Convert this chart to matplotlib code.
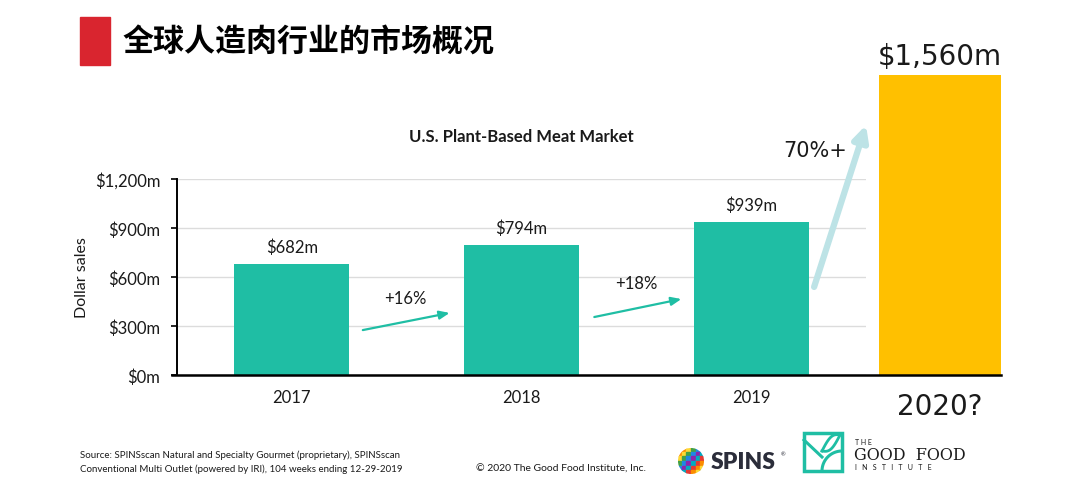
import matplotlib
matplotlib.use("Agg")
import matplotlib.pyplot as plt
from matplotlib.patches import Rectangle, Circle
from matplotlib.lines import Line2D
import numpy as np

# ---- data ----
years = ["2017", "2018", "2019"]
sales = [682, 794, 939]
value_labels = ["$682m", "$794m", "$939m"]
growth_labels = ["+16%", "+18%"]
forecast_year = "2020?"
forecast_value = 1560
forecast_label = "$1,560m"
forecast_growth = "70%+"
yticks = [0, 300, 600, 900, 1200]
ytick_labels = ["$0m", "$300m", "$600m", "$900m", "$1,200m"]

TEAL = "#1fbea4"
YELLOW = "#ffc000"
LIGHTBLUE = "#bde3e6"
GRID = "#dcdcdc"
TXT = "#1a1a1a"
FONT = ["Lato", "DejaVu Sans"]

fig = plt.figure(figsize=(10.8, 5.02), dpi=100)
fig.patch.set_facecolor("white")

# ---- main axes ----
ax = fig.add_axes([177/1080, 1-376/502, (866-177)/1080, (376-180)/502])
x = np.arange(len(years))
ax.bar(x, sales, width=0.5, color=TEAL, zorder=2)
ax.set_xlim(-0.5, 2.5)
ax.set_ylim(0, 1200)
ax.set_yticks(yticks)
ax.set_yticklabels(ytick_labels, fontsize=12, family=FONT, color=TXT)
ax.set_xticks(x)
ax.set_xticklabels(years, fontsize=12, family=FONT, color=TXT)
ax.tick_params(axis="x", length=0, pad=10)
ax.tick_params(axis="y", length=4, width=1.2, pad=8)
ax.grid(axis="y", color=GRID, linewidth=1, zorder=0)
ax.set_axisbelow(True)
for s in ["top", "right", "bottom"]:
    ax.spines[s].set_visible(False)
ax.spines["left"].set_linewidth(1.4)
ax.set_ylabel("Dollar sales", fontsize=11.5, family=FONT, color=TXT, labelpad=4)
ax.set_title("U.S. Plant-Based Meat Market", fontsize=12, family=FONT,
             fontweight="bold", color=TXT, pad=27)

for xi, v, lab in zip(x, sales, value_labels):
    ax.text(xi, v + 105, lab, ha="center", va="center", fontsize=12,
            family=FONT, color=TXT)

# growth arrows
arrows = [((0.309, 275), (0.687, 380)), ((1.317, 355), (1.696, 465))]
lab_pos = [(0.496, 471), (1.5, 563)]
for (s, e), lab, lp in zip(arrows, growth_labels, lab_pos):
    ax.annotate("", xy=e, xytext=s,
                arrowprops=dict(arrowstyle="-|>,head_length=0.6,head_width=0.25",
                                color=TEAL, lw=1.6, shrinkA=0, shrinkB=0))
    ax.text(lp[0], lp[1], lab, ha="center", va="center", fontsize=12,
            family=FONT, color=TXT)

# big forecast arrow
ax.annotate("", xy=(2.5, 1530), xytext=(2.274, 539),
            arrowprops=dict(arrowstyle="-|>,head_length=0.9,head_width=0.45",
                            color=LIGHTBLUE, lw=4.5, shrinkA=0, shrinkB=0),
            annotation_clip=False)
ax.text(2.28, 1377, forecast_growth, ha="center", va="center", fontsize=15,
        family=["DejaVu Sans"], color=TXT, clip_on=False)

# ---- forecast axes ----
ax2 = fig.add_axes([879/1080, 1-376/502, 122/1080, 300/502])
ax2.bar([0], [forecast_value], width=1.0, color=YELLOW)
ax2.set_xlim(-0.5, 0.5)
ax2.set_ylim(0, forecast_value)
ax2.axis("off")
ax2.text(0, forecast_value * 1.065, forecast_label, ha="center", va="center",
         fontsize=20, family=["DejaVu Sans"], color=TXT, clip_on=False)
ax2.text(0, -forecast_value * 0.103, forecast_year, ha="center", va="center",
         fontsize=20, family=["DejaVu Sans"], color=TXT, clip_on=False)

# baseline
fig.add_artist(Line2D([172/1080, 1001/1080], [1-376/502, 1-376/502],
                      color="black", lw=1.8, transform=fig.transFigure))

# ---- page title ----
fig.add_artist(Rectangle((80/1080, 1-66/502), 30/1080, 48/502,
                         color="#d9252f", transform=fig.transFigure))
fig.text(122/1080, 1-43/502, "全球人造肉行业的市场概况", fontsize=22.3,
         family=["Noto Sans CJK SC", "DejaVu Sans"], fontweight="heavy",
         va="center", ha="left", color="black")

# ---- source text ----
fig.text(80/1080, 1-455/502,
         "Source: SPINSscan Natural and Specialty Gourmet (proprietary), SPINSscan",
         fontsize=7, family=FONT, color=TXT, va="center")
fig.text(80/1080, 1-469/502,
         "Conventional Multi Outlet (powered by IRI), 104 weeks ending 12-29-2019",
         fontsize=7, family=FONT, color=TXT, va="center")
fig.text(476/1080, 1-469/502, "© 2020 The Good Food Institute, Inc.",
         fontsize=7.5, family=FONT, color=TXT, va="center")

# ---- logos (approximate) ----
lg = fig.add_axes([0, 0, 1, 1], facecolor="none")
lg.set_xlim(0, 1080)
lg.set_ylim(502, 0)
lg.axis("off")
# SPINS globe
gcols = ["#e53935", "#fb8c00", "#fdd835", "#43a047", "#1e88e5", "#8e24aa", "#00acc1"]
cx, cy, r = 691, 462, 13
clip = Circle((cx, cy), r, transform=lg.transData)
for i in range(-3, 3):
    for j in range(-3, 3):
        sq = Rectangle((cx + i * 4.6, cy + j * 4.6), 4.0, 4.0,
                       color=gcols[(i + j + 6) % len(gcols)], zorder=3)
        sq.set_clip_path(clip)
        lg.add_patch(sq)
lg.text(711, 463, "SPINS", fontsize=16.5, fontweight="heavy", family=FONT,
        color="#2b2d3a", va="center", ha="left")
lg.text(781, 455, "®", fontsize=4, family=FONT, color="#2b2d3a", va="center")
# GFI logo
G = "#1fbea4"
lg.add_patch(Rectangle((804, 434), 38, 38, fill=False, edgecolor=G, lw=2.5))
t = np.linspace(np.pi, 1.5 * np.pi, 30)
lg.plot(842 + 20 * np.cos(t), 472 + 20 * np.sin(t), color=G, lw=2.2)
lg.plot([804, 822], [441, 458], color=G, lw=2.2)
# leaf
tl = np.linspace(0, 1, 30)
lg.plot(822 + 18 * tl, 452 - 16 * tl + 6 * np.sin(np.pi * tl), color=G, lw=2.0)
lg.plot(822 + 18 * tl, 452 - 16 * tl - 6 * np.sin(np.pi * tl), color=G, lw=2.0)
lg.text(855, 443, "T H E", fontsize=5, family=FONT, color=TXT, va="center")
lg.text(854, 456, "GOOD  FOOD", fontsize=11.5, family=["DejaVu Serif"],
        color=TXT, va="center")
lg.text(855, 468, "I   N   S   T   I   T   U   T   E", fontsize=5, family=FONT,
        color=TXT, va="center")

fig.savefig("out.png", dpi=100, facecolor="white")
